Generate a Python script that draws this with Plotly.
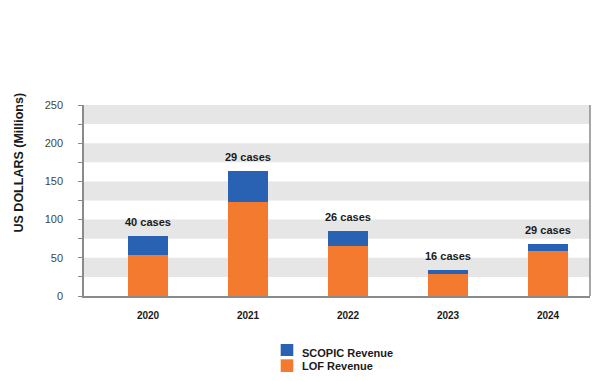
import plotly.graph_objects as go

years = ["2020", "2021", "2022", "2023", "2024"]
lof_revenue = [54.3, 122.4, 65.5, 29.4, 58.6]
scopic_revenue = [23.6, 41.0, 20.2, 4.7, 10.1]
case_labels = ["40 cases", "29 cases", "26 cases", "16 cases", "29 cases"]
y_ticks = [0, 50, 100, 150, 200, 250]

BLUE = "#2A62B3"
ORANGE = "#F47A2F"
FONT = "Liberation Sans, Arial, sans-serif"
TXT = "#1a1a1a"

fig = go.Figure()
fig.add_trace(go.Bar(x=years, y=lof_revenue, name="LOF Revenue",
                     marker=dict(color=ORANGE, line=dict(width=0)), width=0.4))
fig.add_trace(go.Bar(x=years, y=scopic_revenue, name="SCOPIC Revenue",
                     marker=dict(color=BLUE, line=dict(width=0)), width=0.4))

totals = [a + b for a, b in zip(lof_revenue, scopic_revenue)]
for i, (tot, lab) in enumerate(zip(totals, case_labels)):
    fig.add_annotation(x=i, y=tot, xref="x", yref="y", text=lab, showarrow=False,
                       yanchor="bottom", yshift=6,
                       font=dict(family=FONT, size=11, color=TXT, weight="bold"))

# alternating grey bands
for lo in range(25, 250, 50):
    fig.add_shape(type="rect", xref="paper", yref="y", x0=0, x1=1, y0=lo, y1=lo + 25,
                  fillcolor="#E6E6E6", line=dict(width=0), layer="below")

# right border
fig.add_shape(type="line", xref="paper", yref="y", x0=1, x1=1, y0=0, y1=250,
              line=dict(color="#8a8a8a", width=1.5))

# y-axis title (placed like the reference, above plot centre)
fig.add_annotation(xref="paper", yref="paper", x=-0.1275, y=0.7016, text="US DOLLARS (Millions)",
                   textangle=-90, showarrow=False, xanchor="center", yanchor="middle",
                   font=dict(family=FONT, size=12.5, color=TXT, weight="bold"))

# legend (drawn manually to match the reference layout)
legend_items = [("SCOPIC Revenue", BLUE, -0.2513, -0.3141, -0.2969),
                ("LOF Revenue", ORANGE, -0.3314, -0.3979, -0.3649)]
for name, col, y1, y0, yt in legend_items:
    fig.add_shape(type="rect", xref="paper", yref="paper", x0=0.3887, x1=0.4136,
                  y0=y0, y1=y1, fillcolor=col, line=dict(width=0))
    fig.add_annotation(xref="paper", yref="paper", x=0.4263, y=yt, text=name,
                       showarrow=False, xanchor="left", yanchor="middle",
                       font=dict(family=FONT, size=11, color=TXT, weight="bold"))

# page body has an 8px margin, so the figure is 8px smaller and margins shifted
fig.update_layout(
    barmode="stack",
    width=605, height=373,
    margin=dict(l=76, r=23, t=97, b=85, autoexpand=False),
    paper_bgcolor="white", plot_bgcolor="white",
    font=dict(family=FONT),
    showlegend=False,
    xaxis=dict(type="category", range=[-0.64, 4.42], showgrid=False, showline=True,
               linecolor="#8a8a8a", linewidth=1.5, ticks="", ticklabelstandoff=9,
               tickfont=dict(family=FONT, size=10, color=TXT, weight="bold"),
               fixedrange=True),
    yaxis=dict(range=[0, 250], tickvals=y_ticks, showgrid=False, showline=True,
               linecolor="#8a8a8a", linewidth=1.5, ticks="outside", ticklen=4, tickcolor="#8a8a8a",
               minor=dict(tickvals=[25, 75, 125, 175, 225], ticks="outside", ticklen=4, tickcolor="#8a8a8a"),
               ticklabelstandoff=13,
               tickfont=dict(family=FONT, size=11, color="#444444"),
               zeroline=False, fixedrange=True),
)

fig.write_html("out.html")
